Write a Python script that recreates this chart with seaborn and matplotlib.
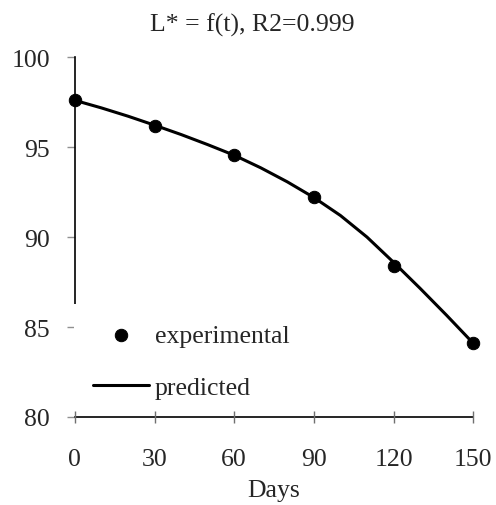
import matplotlib.pyplot as plt
import numpy as np
import pandas as pd
import seaborn as sb

# values
days=[0,30,60,90,120,150]
experimental=[97.6,96.2,94.55,92.2,88.4,84.1]
pred_days=[0,10,20,30,40,50,60,70,80,90,100,110,120,130,140,150]
predicted=[97.6,97.18,96.72,96.22,95.7,95.14,94.55,93.85,93.07,92.2,
           91.2,90.0,88.6,87.15,85.65,84.1]
xticks=[0,30,60,90,120,150]
yticks=[80,85,90,95,100]
title="L* = f(t), R2=0.999"

sb.set_style("white")
plt.rcParams['font.family']=['Liberation Serif','DejaVu Serif']

fig=plt.figure(figsize=(4.96,5.06),dpi=100)
ax=fig.add_axes([0.151,0.174,0.803,0.711])

sb.lineplot(x=pred_days,y=predicted,color="black",linewidth=2.2,label="predicted",ax=ax)
sb.scatterplot(x=days,y=experimental,color="black",s=80,edgecolor="black",
               label="experimental",ax=ax,zorder=3,clip_on=False)

ax.set_xlim(0,150)
ax.set_ylim(80,100)
ax.set_xticks(xticks)
ax.set_yticks(yticks)
sb.despine(ax=ax)
for s in ["left","bottom"]:
    ax.spines[s].set_color("black")
    ax.spines[s].set_linewidth(1.2)
# bottom axis stays on top of the white legend box
ax.spines["bottom"].set_zorder(6)
ax.xaxis.set_zorder(6)

ax.tick_params(axis="y",left=True,direction="out",length=6,width=1,color="#909090",
               pad=12,labelsize=18.5)
ax.tick_params(axis="x",bottom=True,direction="inout",length=9,width=1,color="#707070",
               pad=18,labelsize=18.5)
ax.set_xlabel("Days",fontsize=18.5,labelpad=6)
ax.set_ylabel("")
fig.text(0.508,0.950,title,ha="center",va="center",fontsize=18.5)

h,l=ax.get_legend_handles_labels()
ax.legend([h[1],h[0]],[l[1],l[0]],loc="upper left",bbox_to_anchor=(-0.003,0.313),
          frameon=True,fancybox=False,facecolor="white",edgecolor="none",framealpha=1,
          fontsize=18.5,handlelength=2.2,handletextpad=0.2,borderpad=0.75,
          labelspacing=1.15,borderaxespad=0)

plt.savefig("out.png",dpi=100)
